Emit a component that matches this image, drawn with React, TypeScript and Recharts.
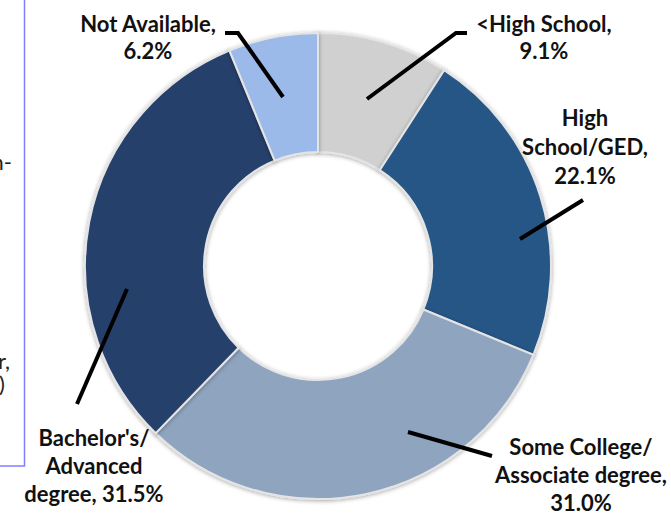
import React from "react";
import { PieChart, Pie, Cell } from "recharts";

// education breakdown, clockwise from 12 o'clock
const categories = [
  "<High School",
  "High School/GED",
  "Some College/Associate degree",
  "Bachelor's/Advanced degree",
  "Not Available",
];
const shares = [9.1, 22.1, 31.0, 31.5, 6.2];
const colors = ["#d0d0d0", "#265686", "#8fa4bf", "#27406c", "#9bb9e9"];

// label text lines, as printed in the chart
const labelLines = [
  ["<High School,", "9.1%"],
  ["High", "School/GED,", "22.1%"],
  ["Some College/", "Associate degree,", "31.0%"],
  ["Bachelor's/", "Advanced", "degree, 31.5%"],
  ["Not Available,", "6.2%"],
];

const data = categories.map((name, i) => ({ name, value: shares[i] }));

// where each label and its leader line sit (relative to pie centre)
const labelLayout = [
  { x: 226, y: -234, gap: 27, leader: [[149, -233], [138, -233], [49, -167]] },
  { x: 267, y: -140, gap: 29, leader: [[265, -66], [202, -27]] },
  { x: 263, y: 189, gap: 28, leader: [[174, 190], [90, 166]] },
  { x: -224, y: 180, gap: 28, leader: [[-241, 138], [-191, 23]] },
  { x: -170, y: -234, gap: 27, leader: [[-93, -233], [-80, -233], [-35, -169]] },
];

const FONT = "Lato, 'Open Sans', sans-serif";

function renderLabel(props: any) {
  const { cx, cy, index } = props;
  const lay = labelLayout[index];
  const pts = lay.leader.map(([dx, dy]) => `${cx + dx},${cy + dy}`).join(" ");
  return (
    <g key={`lbl-${index}`}>
      <polyline points={pts} fill="none" stroke="#000" strokeWidth={4} />
      <text
        x={cx + lay.x}
        y={cy + lay.y}
        textAnchor="middle"
        fontFamily={FONT}
        fontWeight="bold"
        fontSize={22}
        fill="#111"
      >
        {labelLines[index].map((t, k) => (
          <tspan key={k} x={cx + lay.x} dy={k === 0 ? 0 : lay.gap}>
            {t}
          </tspan>
        ))}
      </text>
    </g>
  );
}

export default function App() {
  return (
    <div style={{ position: "absolute", left: 0, top: 0, width: 671, height: 514, background: "#fff" }}>
      <svg width={671} height={514} style={{ position: "absolute", left: 0, top: 0 }}>
        {/* edge of the neighbouring panel, cut off by the crop */}
        <polyline points="24.5,0 24.5,466 0,466" fill="none" stroke="#8080ff" strokeWidth={1.5} />
        <g fontFamily={FONT} fontSize={22} fill="#222">
          <text x={12} y={170} textAnchor="end">n-</text>
          <text x={10} y={369} textAnchor="end">r,</text>
          <text x={5} y={392} textAnchor="end">%)</text>
        </g>
      </svg>
      <div style={{ position: "absolute", left: 0, top: 0 }}>
        <PieChart width={671} height={514} margin={{ top: 0, right: 0, bottom: 0, left: 0 }}>
          <defs>
            <filter id="ringShadow" x="-10%" y="-10%" width="120%" height="120%">
              <feDropShadow dx="0" dy="1" stdDeviation="2" floodColor="#000" floodOpacity="0.35" />
            </filter>
          </defs>
          <Pie
            data={data}
            dataKey="value"
            nameKey="name"
            cx={318}
            cy={266}
            innerRadius={114}
            outerRadius={233}
            startAngle={90}
            endAngle={-270}
            stroke="#e4e4e4"
            strokeWidth={2}
            label={renderLabel}
            labelLine={false}
            isAnimationActive={false}
            style={{ filter: "url(#ringShadow)" }}
          >
            {data.map((d, i) => (
              <Cell key={d.name} fill={colors[i]} />
            ))}
          </Pie>
        </PieChart>
      </div>
    </div>
  );
}
